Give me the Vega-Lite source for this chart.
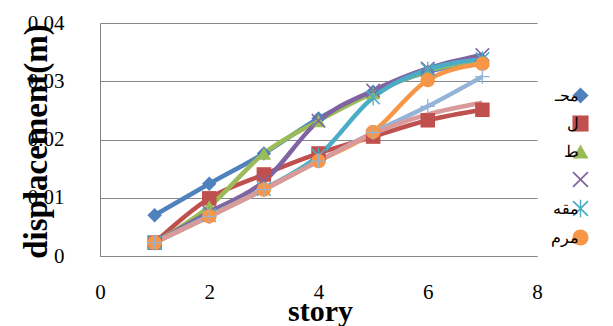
{
  "$schema": "https://vega.github.io/schema/vega-lite/v6.json",
  "width": 437,
  "height": 233,
  "autosize": {"type": "none"},
  "padding": {"left": 100, "top": 23, "right": 76, "bottom": 70},
  "background": "white",
  "config": {
    "view": {"stroke": null},
    "font": "Liberation Serif"
  },
  "data": {
    "values": [
      {"story": 1, "d": 0.0070, "s": "محـ"}, {"story": 2, "d": 0.0124, "s": "محـ"}, {"story": 3, "d": 0.0176, "s": "محـ"}, {"story": 4, "d": 0.0236, "s": "محـ"}, {"story": 5, "d": 0.0282, "s": "محـ"}, {"story": 6, "d": 0.0316, "s": "محـ"}, {"story": 7, "d": 0.0336, "s": "محـ"},
      {"story": 1, "d": 0.0023, "s": "ل"}, {"story": 2, "d": 0.0099, "s": "ل"}, {"story": 3, "d": 0.0140, "s": "ل"}, {"story": 4, "d": 0.0176, "s": "ل"}, {"story": 5, "d": 0.0205, "s": "ل"}, {"story": 6, "d": 0.0233, "s": "ل"}, {"story": 7, "d": 0.0251, "s": "ل"},
      {"story": 1, "d": 0.0023, "s": "ط"}, {"story": 2, "d": 0.0085, "s": "ط"}, {"story": 3, "d": 0.0176, "s": "ط"}, {"story": 4, "d": 0.0232, "s": "ط"}, {"story": 5, "d": 0.0280, "s": "ط"}, {"story": 6, "d": 0.0318, "s": "ط"}, {"story": 7, "d": 0.0336, "s": "ط"},
      {"story": 1, "d": 0.0023, "s": " "}, {"story": 2, "d": 0.0075, "s": " "}, {"story": 3, "d": 0.0128, "s": " "}, {"story": 4, "d": 0.0232, "s": " "}, {"story": 5, "d": 0.0284, "s": " "}, {"story": 6, "d": 0.0322, "s": " "}, {"story": 7, "d": 0.0345, "s": " "},
      {"story": 1, "d": 0.0023, "s": "مقه"}, {"story": 2, "d": 0.0070, "s": "مقه"}, {"story": 3, "d": 0.0115, "s": "مقه"}, {"story": 4, "d": 0.0172, "s": "مقه"}, {"story": 5, "d": 0.0272, "s": "مقه"}, {"story": 6, "d": 0.0320, "s": "مقه"}, {"story": 7, "d": 0.0338, "s": "مقه"},
      {"story": 1, "d": 0.0023, "s": "مرم"}, {"story": 2, "d": 0.0068, "s": "مرم"}, {"story": 3, "d": 0.0114, "s": "مرم"}, {"story": 4, "d": 0.0163, "s": "مرم"}, {"story": 5, "d": 0.0213, "s": "مرم"}, {"story": 6, "d": 0.0302, "s": "مرم"}, {"story": 7, "d": 0.0330, "s": "مرم"},
      {"story": 1, "d": 0.0023, "s": "7"}, {"story": 2, "d": 0.0068, "s": "7"}, {"story": 3, "d": 0.0114, "s": "7"}, {"story": 4, "d": 0.0163, "s": "7"}, {"story": 5, "d": 0.0212, "s": "7"}, {"story": 6, "d": 0.0257, "s": "7"}, {"story": 7, "d": 0.0308, "s": "7"},
      {"story": 1, "d": 0.0023, "s": "8"}, {"story": 2, "d": 0.0068, "s": "8"}, {"story": 3, "d": 0.0114, "s": "8"}, {"story": 4, "d": 0.0163, "s": "8"}, {"story": 5, "d": 0.0210, "s": "8"}, {"story": 6, "d": 0.0243, "s": "8"}, {"story": 7, "d": 0.0263, "s": "8"}
    ]
  },
  "encoding": {
    "x": {
      "field": "story", "type": "quantitative",
      "scale": {"domain": [0, 8], "nice": false},
      "axis": {
        "values": [0, 2, 4, 6, 8], "grid": false, "ticks": false,
        "domainColor": "#868686", "domainWidth": 1,
        "labelFont": "Liberation Serif", "labelFontSize": 21, "labelColor": "#000000",
        "labelPadding": 25, "labelFlush": false,
        "title": "story", "titleFont": "Liberation Serif", "titleFontSize": 30, "titleFontWeight": "bold",
        "titleColor": "#000000", "titleX": 220, "titleY": 64, "titleBaseline": "alphabetic", "titleAlign": "center"
      }
    },
    "y": {
      "field": "d", "type": "quantitative",
      "scale": {"domain": [0, 0.04], "nice": false},
      "axis": {
        "values": [0, 0.01, 0.02, 0.03, 0.04], "format": ".2~f",
        "grid": true, "gridColor": "#868686", "gridWidth": 1, "ticks": false,
        "domainColor": "#868686",
        "labelFont": "Liberation Serif", "labelFontSize": 21, "labelColor": "#000000",
        "labelPadding": 36,
        "title": "displacement(m)", "titleFont": "Liberation Serif", "titleFontSize": 33, "titleFontWeight": "bold",
        "titleColor": "#000000", "titleX": -64, "titleY": 118, "titleBaseline": "middle", "titleAlign": "center", "titleAngle": -90
      }
    },
    "color": {
      "field": "s", "type": "nominal",
      "scale": {
        "domain": ["محـ", "ل", "ط", " ", "مقه", "مرم", "7", "8"],
        "range": ["#4F81BD", "#C0504D", "#9BBB59", "#8064A2", "#4BACC6", "#F79646", "#95B3D7", "#D99A99"]
      },
      "legend": {
        "values": ["محـ", "ل", "ط", " ", "مقه", "مرم"],
        "title": null, "orient": "none", "legendX": 472, "legendY": 64,
        "symbolSize": 260, "symbolStrokeWidth": 0,
        "labelFont": "Liberation Serif", "labelFontSize": 16, "labelColor": "#000000",
        "labelAlign": "right", "labelOffset": -10, "rowPadding": 11
      }
    }
  },
  "layer": [
    {
      "mark": {"type": "line", "interpolate": "monotone", "strokeWidth": 4.5}
    },
    {
      "mark": {"type": "point", "filled": true, "opacity": 1, "size": 210},
      "encoding": {
        "shape": {
          "field": "s", "type": "nominal",
          "scale": {
            "domain": ["محـ", "ل", "ط", " ", "مقه", "مرم", "7", "8"],
            "range": [
              "diamond", "square", "triangle-up",
              "M-1,-0.85L-0.85,-1L0,-0.15L0.85,-1L1,-0.85L0.15,0L1,0.85L0.85,1L0,0.15L-0.85,1L-1,0.85L-0.15,0Z",
              "M-1,-0.85L-0.85,-1L0,-0.15L0.85,-1L1,-0.85L0.15,0L1,0.85L0.85,1L0,0.15L-0.85,1L-1,0.85L-0.15,0ZM-0.09,-1.1H0.09V1.1H-0.09Z",
              "circle",
              "M-0.09,-1H0.09V-0.09H1V0.09H0.09V1H-0.09V0.09H-1V-0.09H-0.09Z",
              "M-0.001,-0.001H0.001V0.001H-0.001Z"
            ]
          },
          "legend": {
            "values": ["محـ", "ل", "ط", " ", "مقه", "مرم"],
            "title": null, "orient": "none", "legendX": 472, "legendY": 64,
            "symbolSize": 260, "symbolStrokeWidth": 0,
            "labelFont": "Liberation Serif", "labelFontSize": 16, "labelColor": "#000000",
            "labelAlign": "right", "labelOffset": -10, "rowPadding": 11
          }
        }
      }
    }
  ]
}
